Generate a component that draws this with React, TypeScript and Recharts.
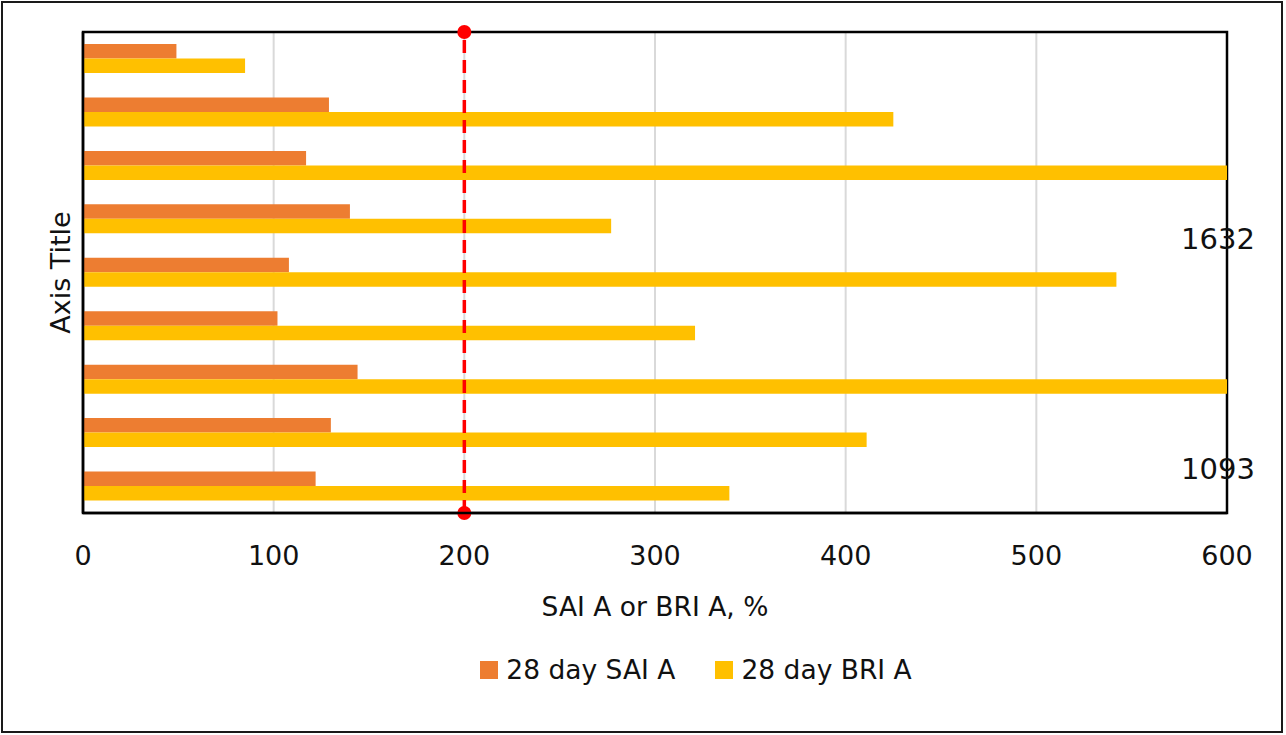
import {
  BarChart, Bar, XAxis, YAxis, CartesianGrid, ReferenceLine, ReferenceArea,
  Legend, Label, LabelList,
} from 'recharts';

// ── 28-day SAI A vs BRI A, horizontal bars ─────────────
const mixes = ['S1', 'S2', 'S3', 'S4', 'S5', 'S6', 'S7', 'S8', 'S9'];
const saiA = [49, 129, 117, 140, 108, 102, 144, 130, 122];
const briA = [85, 425, 1632, 277, 542, 321, 1093, 411, 339];
const xTicks = [0, 100, 200, 300, 400, 500, 600];
const threshold = 200;
const seriesOrder = ['sai', 'bri'];

const data = mixes.map((name, i) => ({ name, sai: saiA[i], bri: briA[i] }));

const FONT = '"DejaVu Sans", sans-serif';
const CHART_W = 1278;
const CHART_H = 728;
const MARGIN = { top: 29, right: 54, bottom: 46, left: 34 };
const PLOT_RIGHT = CHART_W - MARGIN.right;
const X_MAX = xTicks[xTicks.length - 1];

// bars that run off the axis get their value written beside the frame
const overflowShift: Record<number, number> = { 2: 66, 6: 83 };

function OverflowValue(props: any) {
  const { y, height, value, index } = props;
  if (value <= X_MAX) return null;
  const dy = overflowShift[index] ?? 0;
  return (
    <text
      x={PLOT_RIGHT - 9}
      y={y + height / 2 + dy}
      textAnchor="middle"
      dominantBaseline="central"
      fontFamily={FONT}
      fontSize={29}
      fill="#111"
    >
      {value}
    </text>
  );
}

function ThresholdLine(props: any) {
  const { x1, y1, x2, y2 } = props;
  return (
    <g>
      <line x1={x1} y1={y1} x2={x2} y2={y2} stroke="#FF0000" strokeWidth={3.5} strokeDasharray="13 7" />
      <circle cx={x1} cy={Math.min(y1, y2)} r={7} fill="#FF0000" />
      <circle cx={x1} cy={Math.max(y1, y2)} r={7} fill="#FF0000" />
    </g>
  );
}

function LegendBox({ payload }: { payload?: Array<{ value?: string; color?: string; dataKey?: any }> }) {
  const items = [...(payload || [])].sort(
    (a, b) => seriesOrder.indexOf(String(a.dataKey)) - seriesOrder.indexOf(String(b.dataKey)),
  );
  return (
    <div style={{ display: 'flex', justifyContent: 'center', gap: 40, paddingLeft: 128 }}>
      {items.map((p, i) => (
        <div key={i} style={{ display: 'flex', alignItems: 'center', gap: 8 }}>
          <span style={{ width: 18, height: 18, background: p.color, display: 'inline-block' }} />
          <span style={{ fontFamily: FONT, fontSize: 26.5, color: '#111', lineHeight: '30px' }}>{p.value}</span>
        </div>
      ))}
    </div>
  );
}

export default function App() {
  return (
    <div
      style={{
        position: 'absolute', left: 1, top: 1, width: 1282, height: 732,
        border: '2px solid #1a1a1a', boxSizing: 'border-box', background: '#fff',
      }}
    >
      <BarChart
        width={CHART_W}
        height={CHART_H}
        data={data}
        layout="vertical"
        margin={MARGIN}
        barGap={0}
      >
        <CartesianGrid horizontal={false} stroke="#d9d9d9" strokeWidth={2} />
        <XAxis
          type="number"
          domain={[0, X_MAX]}
          ticks={xTicks}
          allowDataOverflow
          height={115}
          tickSize={0}
          tickMargin={33}
          tick={{ fontFamily: FONT, fontSize: 27, fill: '#111' }}
          axisLine={{ stroke: '#000', strokeWidth: 2.5 }}
          tickLine={false}
        >
          <Label
            value="SAI A or BRI A, %"
            position="insideBottom"
            offset={12}
            style={{ fontFamily: FONT, fontSize: 26.5, fill: '#111' }}
          />
        </XAxis>
        <YAxis
          type="category"
          dataKey="name"
          width={46}
          tick={false}
          tickLine={false}
          axisLine={{ stroke: '#000', strokeWidth: 2.5 }}
        >
          <Label
            value="Axis Title"
            angle={-90}
            position="center"
            style={{ fontFamily: FONT, fontSize: 27, fill: '#111' }}
          />
        </YAxis>
        <ReferenceArea x1={0} x2={X_MAX} fill="none" stroke="#000" strokeWidth={2.5} fillOpacity={0} />
        <Bar dataKey="sai" name="28 day SAI A" fill="#ED7D31" barSize={14.5} isAnimationActive={false} />
        <Bar dataKey="bri" name="28 day BRI A" fill="#FFC000" barSize={14.5} isAnimationActive={false}>
          <LabelList dataKey="bri" content={<OverflowValue />} />
        </Bar>
        <ReferenceLine x={threshold} shape={<ThresholdLine />} />
        <Legend
          verticalAlign="bottom"
          content={<LegendBox />}
          wrapperStyle={{ paddingTop: 27 }}
        />
      </BarChart>
    </div>
  );
}
